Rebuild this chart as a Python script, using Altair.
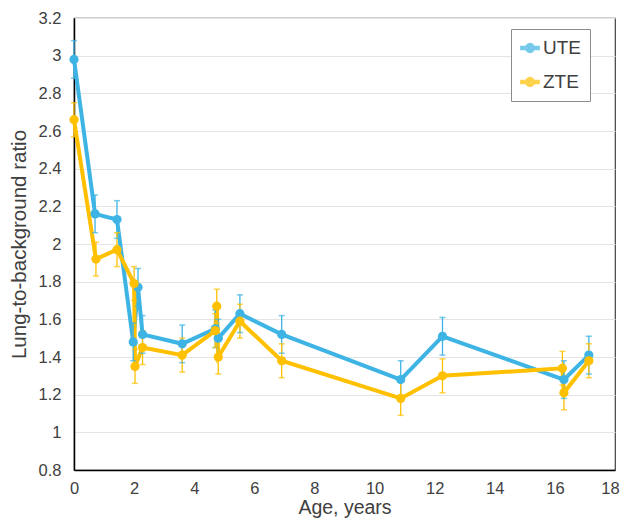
import altair as alt
import pandas as pd

series_names = ["UTE", "ZTE"]
colors = ["#3DB4E4", "#FFC000"]

ute_x = [0, 0.7, 1.43, 1.97, 2.13, 2.28, 3.6, 4.7, 4.8, 5.52, 6.91, 10.87, 12.26, 16.3, 17.13]
ute_y = [2.98, 2.16, 2.13, 1.48, 1.77, 1.52, 1.47, 1.55, 1.50, 1.63, 1.52, 1.28, 1.51, 1.28, 1.41]
ute_err = [0.10, 0.10, 0.10, 0.10, 0.10, 0.10, 0.10, 0.10, 0.10, 0.10, 0.10, 0.10, 0.10, 0.10, 0.10]

zte_x = [0, 0.73, 1.43, 2.0, 2.03, 2.28, 3.6, 4.7, 4.75, 4.8, 5.52, 6.91, 10.87, 12.26, 16.25, 16.3, 17.13]
zte_y = [2.66, 1.92, 1.97, 1.79, 1.35, 1.45, 1.41, 1.54, 1.67, 1.40, 1.59, 1.38, 1.18, 1.30, 1.34, 1.21, 1.38]
zte_err = [0.09, 0.09, 0.09, 0.09, 0.09, 0.09, 0.09, 0.09, 0.09, 0.09, 0.09, 0.09, 0.09, 0.09, 0.09, 0.09, 0.09]

x_ticks = [0, 2, 4, 6, 8, 10, 12, 14, 16, 18]
y_ticks = [0.8, 1.0, 1.2, 1.4, 1.6, 1.8, 2.0, 2.2, 2.4, 2.6, 2.8, 3.0, 3.2]

rows = []
for name, xs, ys, es in [("UTE", ute_x, ute_y, ute_err), ("ZTE", zte_x, zte_y, zte_err)]:
    for i, (xv, yv, ev) in enumerate(zip(xs, ys, es)):
        rows.append({"series": name, "idx": i, "x": xv, "y": yv, "lo": yv - ev, "hi": yv + ev})
df = pd.DataFrame(rows)

FONT = "Liberation Sans"
TXT = "#404040"

xaxis = alt.Axis(values=x_ticks, tickCount=20, title="Age, years", grid=False, ticks=False,
                 labelPadding=10, labelFontSize=16.5, titleFontSize=19.5,
                 titlePadding=2, labelColor=TXT, titleColor=TXT,
                 labelOverlap=False, labelFlush=False, labelBound=False,
                 labelOffset={"condition": {"test": "datum.value >= 18", "value": -5}, "value": 0},
                 domainColor="#000000", domainWidth=1.5, labelFont=FONT,
                 titleFont=FONT, titleFontWeight="normal")
yaxis = alt.Axis(values=y_ticks, tickCount=20, format=".1~f", title="Lung-to-background ratio",
                 grid=True, gridColor="#E4E4E4", gridWidth=1, ticks=False,
                 labelPadding=13, labelFontSize=16.5, titleFontSize=20.5,
                 titlePadding=9, labelColor=TXT, titleColor=TXT,
                 labelOverlap=False, labelFlush=False, labelBound=False,
                 domainColor="#000000", domainWidth=1.5, labelFont=FONT,
                 titleFont=FONT, titleFontWeight="normal")
xscale = alt.Scale(domain=[0, 18], nice=False)
yscale = alt.Scale(domain=[0.8, 3.2], nice=False, zero=False)

# legend glyph: short line with a dot (polygonal circle)
sym = ("M-1,-0.16 L1,-0.16 L1,0.16 L-1,0.16 Z "
       "M0.48,0 L0.416,0.24 L0.24,0.416 L0,0.48 L-0.24,0.416 L-0.416,0.24 "
       "L-0.48,0 L-0.416,-0.24 L-0.24,-0.416 L0,-0.48 L0.24,-0.416 L0.416,-0.24 Z")

cscale = alt.Scale(domain=series_names, range=colors)
legend = alt.Legend(title=None, orient="none", legendX=437, legendY=11,
                    fillColor="white", strokeColor="#8C8C8C",
                    padding=9, labelFontSize=19, labelFont=FONT,
                    labelColor=TXT, symbolType=sym, symbolSize=330,
                    rowPadding=14, labelOffset=3)

base = alt.Chart(df)

lines = base.mark_line(strokeWidth=4).encode(
    x=alt.X("x:Q", scale=xscale, axis=xaxis),
    y=alt.Y("y:Q", scale=yscale, axis=yaxis),
    color=alt.Color("series:N", scale=cscale, legend=legend),
    order="idx:Q",
)

rules = base.mark_rule(strokeWidth=1.3).encode(
    x=alt.X("x:Q", scale=xscale, axis=xaxis),
    y=alt.Y("lo:Q", scale=yscale, axis=yaxis), y2="hi:Q",
    color=alt.Color("series:N", scale=cscale, legend=legend),
)
caps_lo = base.mark_tick(orient="horizontal", size=6, thickness=1.5).encode(
    x=alt.X("x:Q", scale=xscale, axis=xaxis),
    y=alt.Y("lo:Q", scale=yscale, axis=yaxis),
    color=alt.Color("series:N", scale=cscale, legend=legend),
)
caps_hi = base.mark_tick(orient="horizontal", size=6, thickness=1.5).encode(
    x=alt.X("x:Q", scale=xscale, axis=xaxis),
    y=alt.Y("hi:Q", scale=yscale, axis=yaxis),
    color=alt.Color("series:N", scale=cscale, legend=legend),
)
points = base.mark_point(filled=True, size=85, opacity=1).encode(
    x=alt.X("x:Q", scale=xscale, axis=xaxis),
    y=alt.Y("y:Q", scale=yscale, axis=yaxis),
    color=alt.Color("series:N", scale=cscale, legend=legend),
)

chart = alt.layer(lines, rules, caps_lo, caps_hi, points).properties(
    width=541, height=452,
    autosize=alt.AutoSizeParams(type="none"),
    padding={"left": 66, "top": 10, "right": 5, "bottom": 48},
    background="white",
).configure_view(stroke="#404040", strokeWidth=1.2)

chart.save("out.html", embed_options={"renderer": "svg", "actions": False})
